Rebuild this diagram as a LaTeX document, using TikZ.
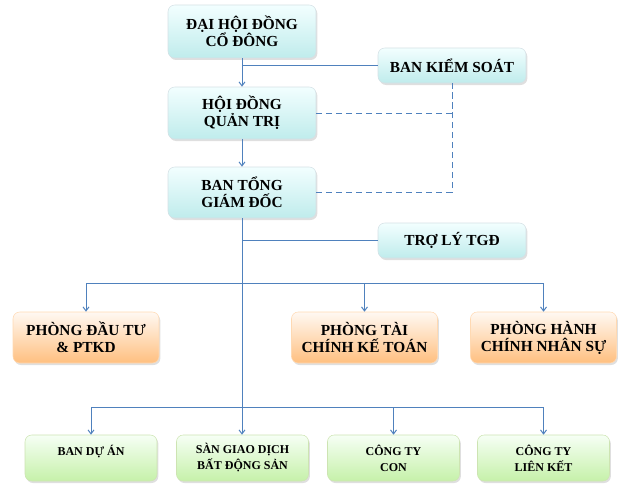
\documentclass[tikz,border=0pt]{standalone}
\usepackage{fontspec}
\setmainfont{Liberation Serif}
\usetikzlibrary{arrows.meta,shadows,positioning}
\definecolor{linkblue}{HTML}{4F81BD}

\begin{document}
\begin{tikzpicture}[x=0.75pt,y=-0.75pt,
    every node/.style={rounded corners=5pt,align=center,
      drop shadow={opacity=0.25,shadow xshift=1pt,shadow yshift=-1.5pt}},
    bluebox/.style={draw=cyan!25!gray!30,top color=blue!3!cyan!5,bottom color=cyan!40!teal!25,
      minimum width=111pt,font=\fontsize{11.5}{12.75}\selectfont\bfseries},
    orangebox/.style={draw=orange!30,top color=orange!5,bottom color=orange!50,
      minimum width=109.5pt,minimum height=38.25pt,font=\fontsize{11.5}{12.75}\selectfont\bfseries},
    greenbox/.style={draw=green!30!olive!30,top color=yellow!10!green!4,bottom color=olive!40!green!28,
      minimum width=99pt,minimum height=34.5pt,font=\fontsize{9}{12}\selectfont\bfseries},
    link/.style={draw=linkblue,line width=0.75pt},
    arr/.style={link,-{Straight Barb[length=3pt,width=4.5pt]}},
    dashlink/.style={link,dash pattern=on 4.5pt off 3pt}]
  \useasboundingbox (0,0) rectangle (623,492);

  \node[bluebox,minimum height=39.75pt] (dhcd) at (242,31.5) {ĐẠI HỘI ĐỒNG\\CỔ ĐÔNG};
  \node[bluebox,minimum height=26.25pt] (bks) at (452,65.5) {BAN KIỂM SOÁT};
  \node[bluebox,minimum height=39pt] (hdqt) at (242,113) {HỘI ĐỒNG\\QUẢN TRỊ};
  \node[bluebox,minimum height=38.25pt] (btgd) at (242,192.5) {BAN TỔNG\\GIÁM ĐỐC};
  \node[bluebox,minimum height=26.25pt] (trly) at (452,240.5) {TRỢ LÝ TGĐ};

  \node[orangebox] (pdt) at (86,337.5) {PHÒNG ĐẦU TƯ\\\& PTKD};
  \node[orangebox] (ptc) at (364.5,337.5) {PHÒNG TÀI\\CHÍNH KẾ TOÁN};
  \node[orangebox] (phc) at (543.5,337.5) {PHÒNG HÀNH\\CHÍNH NHÂN SỰ};

  \node[greenbox] (bda) at (91,458) {BAN DỰ ÁN\\\mbox{}};
  \node[greenbox] (san) at (242.5,458) {SÀN GIAO DỊCH\\BẤT ĐỘNG SẢN};
  \node[greenbox] (cty) at (393.5,458) {CÔNG TY\\CON};
  \node[greenbox] (clk) at (543.5,458) {CÔNG TY\\LIÊN KẾT};

  \coordinate (ks) at (dhcd.south |- bks.west);
  \coordinate (bus1) at (btgd.south |- 0,283);
  \coordinate (bus2) at (btgd.south |- 0,407);

  \draw[arr] (dhcd) -- (hdqt);
  \draw[link] (ks) -- (bks.west);
  \draw[arr] (hdqt) -- (btgd);
  \draw[dashlink] (hdqt.east) -| (bks.south);
  \draw[dashlink] (btgd.east) -| (bks.south);

  \draw[arr] (btgd.south) -- (btgd.south |- san.north);
  \draw[link] (btgd.south |- trly.west) -- (trly.west);
  \draw[arr] (bus1) -| (pdt);
  \draw[arr] (bus1) -| (ptc);
  \draw[arr] (bus1) -| (phc);
  \draw[arr] (bus2) -| (bda);
  \draw[arr] (bus2) -| (cty);
  \draw[arr] (bus2) -| (clk);
\end{tikzpicture}
\end{document}
